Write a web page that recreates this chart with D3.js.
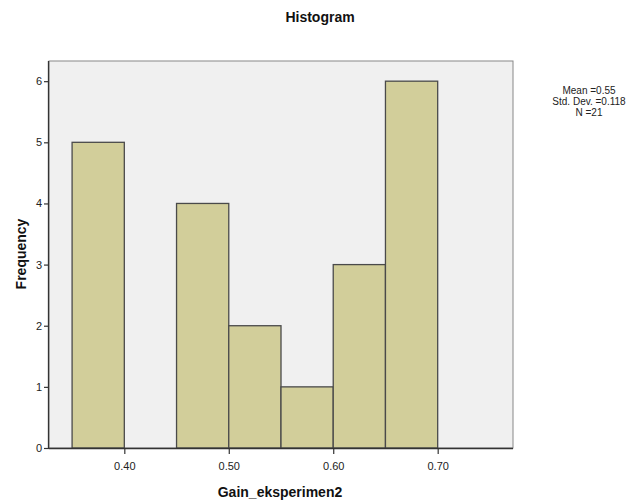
<!DOCTYPE html>
<html><head><meta charset="utf-8">
<script src="https://cdn.jsdelivr.net/npm/d3@7"></script>
<style>body{margin:0;background:#fff}svg{display:block;font-family:"Liberation Sans",Arial,sans-serif}</style>
</head><body><svg id="c" width="640" height="500"></svg>
<script>
const binStarts = [0.35, 0.40, 0.45, 0.50, 0.55, 0.60, 0.65];
const frequencies = [5, 0, 4, 2, 1, 3, 6];
const binWidth = 0.05;
const xTickValues = [0.40, 0.50, 0.60, 0.70];
const yTickValues = [0, 1, 2, 3, 4, 5, 6];
const statsLines = ["Mean =0.55", "Std. Dev. =0.118", "N =21"];

const svg = d3.select("#c");
const L = 49, R = 513, T = 61, B = 448;
const x = d3.scaleLinear().domain([0.3279, 0.7721]).range([L, R]);
const y = d3.scaleLinear().domain([0, 6.33]).range([B, T]);

svg.append("rect").attr("x", L).attr("y", T).attr("width", R - L).attr("height", B - T)
  .attr("fill", "#f0f0f0").attr("stroke", "#888").attr("stroke-width", 1);

svg.append("g").selectAll("rect").data(binStarts.map((s, i) => ({s, f: frequencies[i]})).filter(d => d.f > 0))
  .join("rect")
  .attr("x", d => x(d.s)).attr("y", d => y(d.f))
  .attr("width", d => x(d.s + binWidth) - x(d.s)).attr("height", d => y(0) - y(d.f))
  .attr("fill", "#d2ce9a").attr("stroke", "#4a4a4a").attr("stroke-width", 1.3);

const xAxis = svg.append("g").attr("transform", `translate(0,${B})`)
  .call(d3.axisBottom(x).tickValues(xTickValues).tickFormat(d3.format(".2f")).tickSize(6).tickSizeOuter(0));
const yAxis = svg.append("g").attr("transform", `translate(${L},0)`)
  .call(d3.axisLeft(y).tickValues(yTickValues).tickFormat(d3.format("d")).tickSize(5).tickSizeOuter(0));
[xAxis, yAxis].forEach(a => {
  a.select(".domain").attr("stroke", "#333").attr("stroke-width", 1.3);
  a.selectAll(".tick line").attr("stroke", "#333").attr("stroke-width", 1.2);
  a.selectAll("text").attr("font-size", 11).attr("fill", "#222").attr("font-family", "Liberation Sans, Arial, sans-serif");
});
xAxis.select(".domain").attr("d", `M${L},0.5H${R}`);
yAxis.select(".domain").attr("d", `M-0.5,${T}V${B}`);
xAxis.selectAll("text").attr("dy", "1.2em");
yAxis.selectAll("text").attr("x", -7);

svg.append("text").attr("x", 320).attr("y", 22).attr("text-anchor", "middle")
  .attr("font-weight", "bold").attr("font-size", 14).attr("fill", "#111").text("Histogram");
svg.append("text").attr("x", 280).attr("y", 497).attr("text-anchor", "middle")
  .attr("font-weight", "bold").attr("font-size", 14).attr("fill", "#111").text("Gain_eksperimen2");
svg.append("text").attr("transform", "translate(26,254) rotate(-90)").attr("text-anchor", "middle")
  .attr("font-weight", "bold").attr("font-size", 14).attr("fill", "#111").text("Frequency");

svg.append("g").selectAll("text").data(statsLines).join("text")
  .attr("x", 589).attr("y", (d, i) => 94 + i * 11).attr("text-anchor", "middle")
  .attr("font-size", 10).attr("fill", "#222").text(d => d);
</script></body></html>
